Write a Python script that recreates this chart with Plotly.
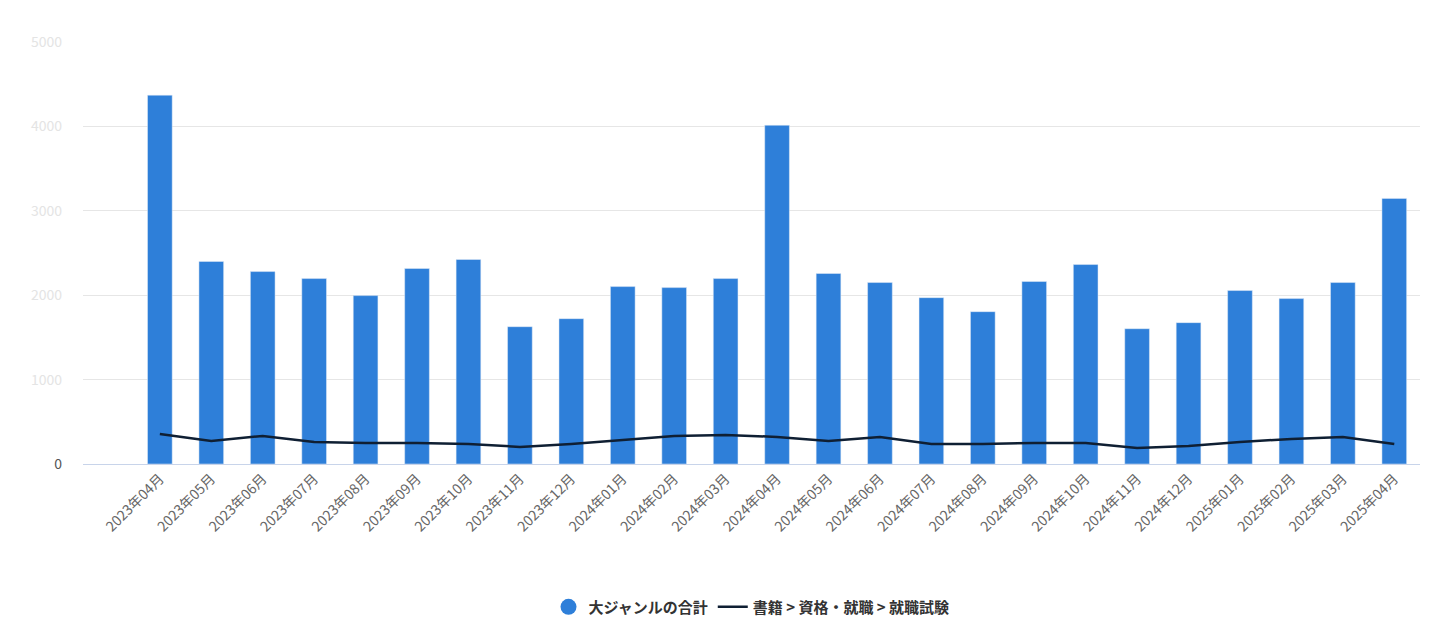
import plotly.graph_objects as go

months = ["2023年04月","2023年05月","2023年06月","2023年07月","2023年08月","2023年09月","2023年10月","2023年11月","2023年12月",
          "2024年01月","2024年02月","2024年03月","2024年04月","2024年05月","2024年06月","2024年07月","2024年08月","2024年09月",
          "2024年10月","2024年11月","2024年12月","2025年01月","2025年02月","2025年03月","2025年04月"]
total = [4370,2400,2280,2197,1995,2316,2423,1627,1722,2102,2090,2197,4014,2257,2150,1971,1805,2162,2363,1603,1675,2055,1960,2150,3147]
exam = [356,273,333,261,249,249,238,202,238,285,333,344,321,273,321,238,238,249,249,190,214,261,297,321,238]
yticks = [0,1000,2000,3000,4000,5000]
ylabels = ["0","1000","2000","3000","4000","5000"]

font = "Noto Sans CJK JP"
ticktext = [f'<span style="color:#555">{t}</span>' if t == "0" else t for t in ylabels]
fig = go.Figure()
fig.add_trace(go.Bar(x=months, y=total, name="大ジャンルの合計", marker_color="#2e7fd9", showlegend=False, legendgroup="a"))
fig.add_trace(go.Scatter(x=[months[0]], y=[None], name="大ジャンルの合計", mode="markers", legendgroup="a",
                         marker=dict(symbol="circle", size=16, color="#2e7fd9")))
fig.add_trace(go.Scatter(x=months, y=exam, name="書籍 > 資格・就職 > 就職試験", mode="lines",
                         line=dict(color="#0f1f33", width=2.5)))
fig.update_layout(
    width=1430, height=628, plot_bgcolor="white", paper_bgcolor="white",
    margin=dict(l=75, r=18, t=34, b=169),
    bargap=0.52,
    font=dict(family=font, color="#555", size=14),
    legend=dict(orientation="h", x=0.5, xanchor="center", y=-0.3, yanchor="top",
                font=dict(size=15, color="#333", weight="bold")),
    xaxis=dict(tickangle=-45, showgrid=False, linecolor="#c8d4ea", tickfont=dict(size=14, color="#666")),
    yaxis=dict(range=[0,5000], tickvals=yticks, ticktext=ticktext, gridcolor="#e6e6e6",
               tickfont=dict(size=14, color="#e4e4e4"), zeroline=False, ticklabelstandoff=20),
)
fig.write_html("out.html")
